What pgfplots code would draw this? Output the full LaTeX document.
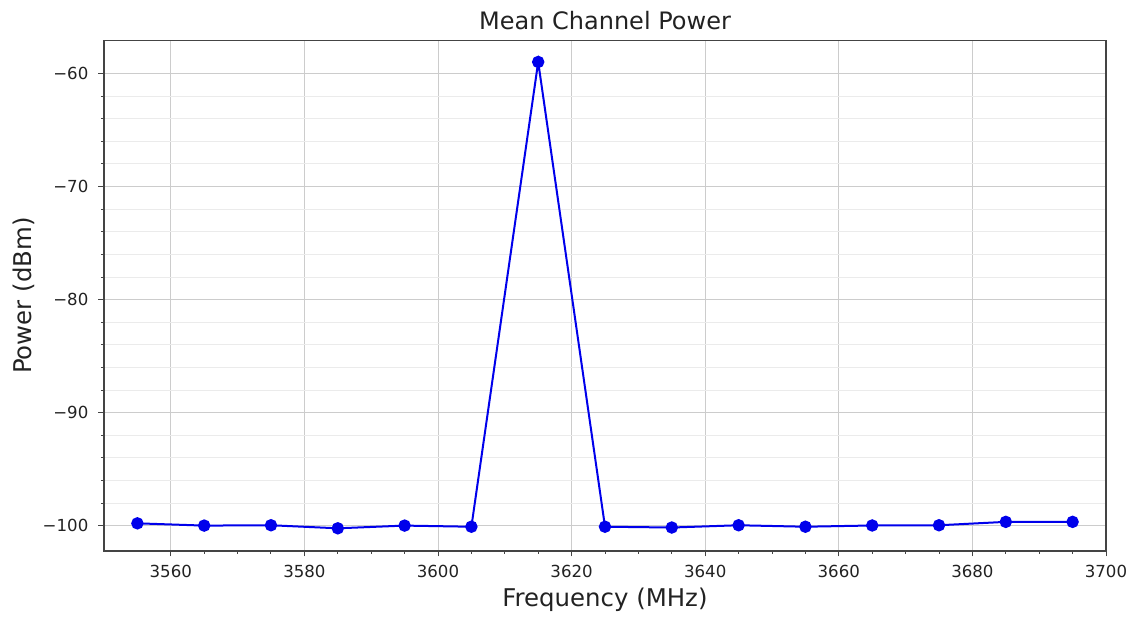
\documentclass[border=0pt]{standalone}
\usepackage{fontspec}
\setmainfont{DejaVu Sans}
\usepackage{pgfplots}
\pgfplotsset{compat=1.18}
\definecolor{txt}{HTML}{222222}
\definecolor{frame}{HTML}{444444}
\begin{document}
\begin{tikzpicture}
\begin{axis}[
  name=ax,
  scale only axis,
  width=501pt, height=255pt,
  xmin=3550, xmax=3700,
  ymin=-102.2, ymax=-57.1,
  xtick={3560,3580,...,3700},
  ytick={-100,-90,...,-60},
  minor x tick num=3,
  minor y tick num=4,
  tick align=outside,
  tick pos=left,
  major tick length=2.8pt,
  minor tick length=1.5pt,
  every tick/.style={frame, line width=0.5pt},
  xmajorgrids, ymajorgrids, yminorgrids,
  major grid style={color=black!20, line width=0.5pt},
  minor grid style={color=black!8, line width=0.5pt},
  axis line style={frame, line width=0.8pt},
  /pgf/number format/assume math mode=true,
  /pgf/number format/1000 sep={},
  tick label style={font=\fontsize{8.3}{10}\selectfont, text=txt},
  xticklabel style={yshift=-1pt},
  yticklabel style={xshift=-1.5pt},
  yticklabel={\pgfmathparse{-\tick}\char"2212\pgfmathprintnumber[assume math mode=true]{\pgfmathresult}},
  xlabel={Frequency (MHz)},
  ylabel={Power (dBm)},
  title={Mean Channel Power},
  label style={font=\fontsize{12.2}{14}\selectfont, text=txt},
  title style={font=\fontsize{12}{14}\selectfont, text=txt, yshift=-4pt},
  xlabel style={yshift=2pt},
  ylabel style={yshift=-3pt},
]
\addplot[color={rgb,255:red,0;green,0;blue,235}, line width=1pt, mark=*, mark size=2.6pt,
  mark options={fill={rgb,255:red,0;green,0;blue,235}, draw={rgb,255:red,0;green,0;blue,235}}]
coordinates {
(3555,-99.78) (3565,-99.98) (3575,-99.95) (3585,-100.22) (3595,-99.98)
(3605,-100.08) (3615,-58.98) (3625,-100.08) (3635,-100.15) (3645,-99.95)
(3655,-100.08) (3665,-99.97) (3675,-99.95) (3685,-99.65) (3695,-99.65)
};
\end{axis}
\pgfresetboundingbox
\path ([xshift=-52pt,yshift=-33pt]ax.south west) rectangle ([xshift=12.5pt,yshift=20.35pt]ax.north east);
\end{tikzpicture}
\end{document}
